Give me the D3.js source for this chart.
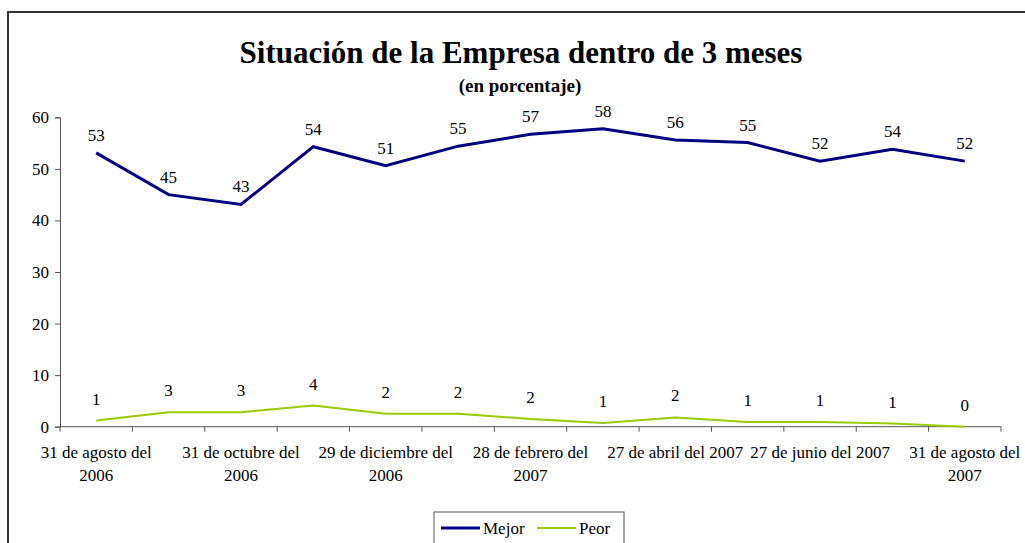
<!DOCTYPE html>
<html>
<head>
<meta charset="utf-8">
<script src="https://cdn.jsdelivr.net/npm/d3@7"></script>
<style>
  html, body { margin: 0; padding: 0; background: #fff; }
  svg text { font-family: "Liberation Serif", "Times New Roman", "DejaVu Serif", serif; }
</style>
</head>
<body>
<svg id="chart" width="1025" height="543"></svg>
<script>
const categories = [
  "31 de agosto del 2006", "29 de septiembre del 2006", "31 de octubre del 2006",
  "30 de noviembre del 2006", "29 de diciembre del 2006", "31 de enero del 2007",
  "28 de febrero del 2007", "30 de marzo del 2007", "27 de abril del 2007",
  "31 de mayo del 2007", "27 de junio del 2007", "31 de julio del 2007",
  "31 de agosto del 2007"
];
const mejor = [53.1, 45.0, 43.1, 54.3, 50.6, 54.4, 56.7, 57.8, 55.6, 55.1, 51.5, 53.8, 51.5];
const peor  = [1.2, 2.8, 2.8, 4.1, 2.5, 2.5, 1.5, 0.7, 1.8, 0.9, 0.9, 0.6, 0.0];
const mejorLabels = [53, 45, 43, 54, 51, 55, 57, 58, 56, 55, 52, 54, 52];
const peorLabels  = [1, 3, 3, 4, 2, 2, 2, 1, 2, 1, 1, 1, 0];
const yTicks = [0, 10, 20, 30, 40, 50, 60];
const seriesNames = ["Mejor", "Peor"];
const titleText = "Situación de la Empresa dentro de 3 meses";
const subtitleText = "(en porcentaje)";

(function () {
const svg = d3.select("#chart");
const colors = { Mejor: "#000080", Peor: "#99CC00" };
const FS = 17;

// Frame
svg.append("rect").attr("x", 8).attr("y", 12).attr("width", 1040).attr("height", 560)
  .attr("fill", "none").attr("stroke", "#333").attr("stroke-width", 2);

// Titles
svg.append("text").attr("x", 521).attr("y", 63).attr("text-anchor", "middle")
  .attr("font-size", 31).attr("font-weight", "bold").text(titleText);
svg.append("text").attr("x", 520).attr("y", 92).attr("text-anchor", "middle")
  .attr("font-size", 19).attr("font-weight", "bold").text(subtitleText);

const pLeft = 60, pRight = 1001, pTop = 117.3, pBottom = 426.7;
const x = d3.scaleBand().domain(d3.range(categories.length)).range([pLeft, pRight]);
const y = d3.scaleLinear().domain([0, 60]).range([pBottom, pTop]);
const cx = i => x(i) + x.bandwidth() / 2;

// Y axis
const yAxis = svg.append("g").attr("transform", `translate(${pLeft},0)`)
  .call(d3.axisLeft(y).tickValues(yTicks).tickSize(5).tickPadding(6));
yAxis.attr("font-family", null).attr("font-size", null);
yAxis.select(".domain").attr("stroke", "#555");
yAxis.selectAll(".tick line").attr("stroke", "#555");
yAxis.selectAll("text").attr("font-size", FS).attr("fill", "#000");

// X axis line and ticks at category boundaries
const boundaries = d3.range(categories.length + 1).map(i => pLeft + i * x.bandwidth());
const xg = svg.append("g");
xg.append("line").attr("x1", pLeft).attr("x2", pRight).attr("y1", pBottom).attr("y2", pBottom)
  .attr("stroke", "#555");
xg.selectAll("line.tk").data(boundaries).join("line").attr("class", "tk")
  .attr("x1", d => d).attr("x2", d => d).attr("y1", pBottom).attr("y2", pBottom + 5)
  .attr("stroke", "#555");

// X labels (every other category), wrapped when too wide
const maxW = x.bandwidth() * 2;
categories.forEach((c, i) => {
  if (i % 2 !== 0) return;
  const t = xg.append("text").attr("x", cx(i)).attr("y", 458).attr("text-anchor", "middle")
    .attr("font-size", FS).text(c);
  if (t.node().getComputedTextLength() > maxW) {
    const words = c.split(" ");
    const last = words.pop();
    t.text(words.join(" "));
    xg.append("text").attr("x", cx(i)).attr("y", 481).attr("text-anchor", "middle")
      .attr("font-size", FS).text(last);
  }
});

// Lines
const line = d3.line().x((d, i) => cx(i)).y(d => y(d));
svg.append("path").datum(peor).attr("d", line).attr("fill", "none")
  .attr("stroke", colors.Peor).attr("stroke-width", 2);
svg.append("path").datum(mejor).attr("d", line).attr("fill", "none")
  .attr("stroke", colors.Mejor).attr("stroke-width", 3);

// Data labels
svg.append("g").selectAll("text").data(mejor).join("text")
  .attr("x", (d, i) => cx(i)).attr("y", d => y(d) - 12)
  .attr("text-anchor", "middle").attr("font-size", FS)
  .text((d, i) => mejorLabels[i]);
svg.append("g").selectAll("text").data(peor).join("text")
  .attr("x", (d, i) => cx(i)).attr("y", d => y(d) - 16)
  .attr("text-anchor", "middle").attr("font-size", FS)
  .text((d, i) => peorLabels[i]);

// Legend
const lg = svg.append("g");
lg.append("rect").attr("x", 434).attr("y", 512).attr("width", 190).attr("height", 60)
  .attr("fill", "#fff").attr("stroke", "#555").attr("stroke-width", 1);
const legendX = [441, 537];
seriesNames.forEach((n, i) => {
  lg.append("line").attr("x1", legendX[i]).attr("x2", legendX[i] + 39)
    .attr("y1", 528).attr("y2", 528).attr("stroke", colors[n])
    .attr("stroke-width", n === "Mejor" ? 3 : 2);
  lg.append("text").attr("x", legendX[i] + 42).attr("y", 534).attr("font-size", FS).text(n);
});
})();
</script>
</body>
</html>
